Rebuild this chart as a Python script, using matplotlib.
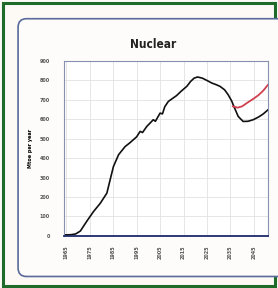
import matplotlib
matplotlib.use("Agg")
import matplotlib.pyplot as plt
from matplotlib.patches import FancyBboxPatch, Rectangle

# Historical + low scenario (black)
years = [1964, 1967, 1969, 1971, 1974, 1976.6, 1979.5, 1982.3, 1983.7, 1985.1, 1987.3,
         1990.1, 1992, 1993.6, 1995, 1996.5, 1997.5, 1999.3, 2000.5, 2002.1, 2003,
         2005, 2006, 2007, 2008.5, 2010, 2012, 2014, 2016.4, 2018, 2019.5, 2021,
         2023, 2025, 2027, 2029, 2030.5, 2032.5, 2034, 2035.5, 2036.5, 2038.3,
         2040.4, 2042.5, 2044.7, 2047, 2049, 2051]
nuclear = [5, 6, 10, 25, 80, 125, 168, 220, 289, 357, 418,
           460, 478, 495, 510, 538, 532, 563, 578, 598, 590,
           632, 628, 665, 692, 705, 722, 745, 770, 795, 812, 818,
           812, 800, 787, 778, 770, 752, 727, 695, 665, 615,
           589, 590, 598, 612, 628, 649]

# High scenario (red)
years_high = [2036, 2038, 2040, 2042, 2044.7, 2047, 2049, 2051]
nuclear_high = [667, 660, 667, 684, 705, 725, 748, 778]

x_ticks = [1965, 1975, 1985, 1995, 2005, 2015, 2025, 2035, 2045]
y_ticks = list(range(0, 1000, 100))

fig = plt.figure(figsize=(2.78, 2.88), dpi=100)
fig.patch.set_facecolor("#fdfaf6")

# outer green frame and inner rounded panel (behind the axes)
fig.patches.append(Rectangle((0.012, 0.008), 0.978, 0.982, transform=fig.transFigure,
                             fill=False, edgecolor="#1f6b2a", linewidth=2.2, zorder=-2))
fig.patches.append(FancyBboxPatch((0.065, 0.04), 0.98, 0.895, transform=fig.transFigure,
                                  boxstyle="round,pad=0,rounding_size=0.03",
                                  facecolor="#fefcfa", edgecolor="#5a6a9a", linewidth=1.2,
                                  zorder=-1))

ax = fig.add_axes([0.230, 0.181, 0.734, 0.607])
ax.set_facecolor("white")
ax.plot(years, nuclear, color="#111111", linewidth=1.2)
ax.plot(years_high, nuclear_high, color="#d0404f", linewidth=1.3)

ax.set_xlim(1964, 2051)
ax.set_ylim(0, 900)
ax.set_xticks(x_ticks)
ax.set_xticklabels([str(y) for y in x_ticks], rotation=90, fontsize=3.5,
                   color="#555555", fontweight="bold")
ax.set_yticks(y_ticks)
ax.set_yticklabels([str(v) for v in y_ticks], fontsize=3.5, color="#555555",
                   fontweight="bold")
ax.tick_params(axis="y", length=0, pad=10)
ax.tick_params(axis="x", length=0, pad=7)
ax.grid(True, color="#e2e2e2", linewidth=0.6)

for s in ["left", "top", "right"]:
    ax.spines[s].set_color("#8890b0")
    ax.spines[s].set_linewidth(0.8)
ax.spines["bottom"].set_color("#1c2a6a")
ax.spines["bottom"].set_linewidth(1.3)

ax.set_ylabel("Mtoe per year", fontsize=3.5, fontweight="bold", labelpad=5)
fig.text(0.55, 0.844, "Nuclear", ha="center", va="center", fontsize=8.5,
         fontweight="bold", fontstretch="condensed", color="#222222")

fig.savefig("out.png", dpi=100, facecolor=fig.get_facecolor())
